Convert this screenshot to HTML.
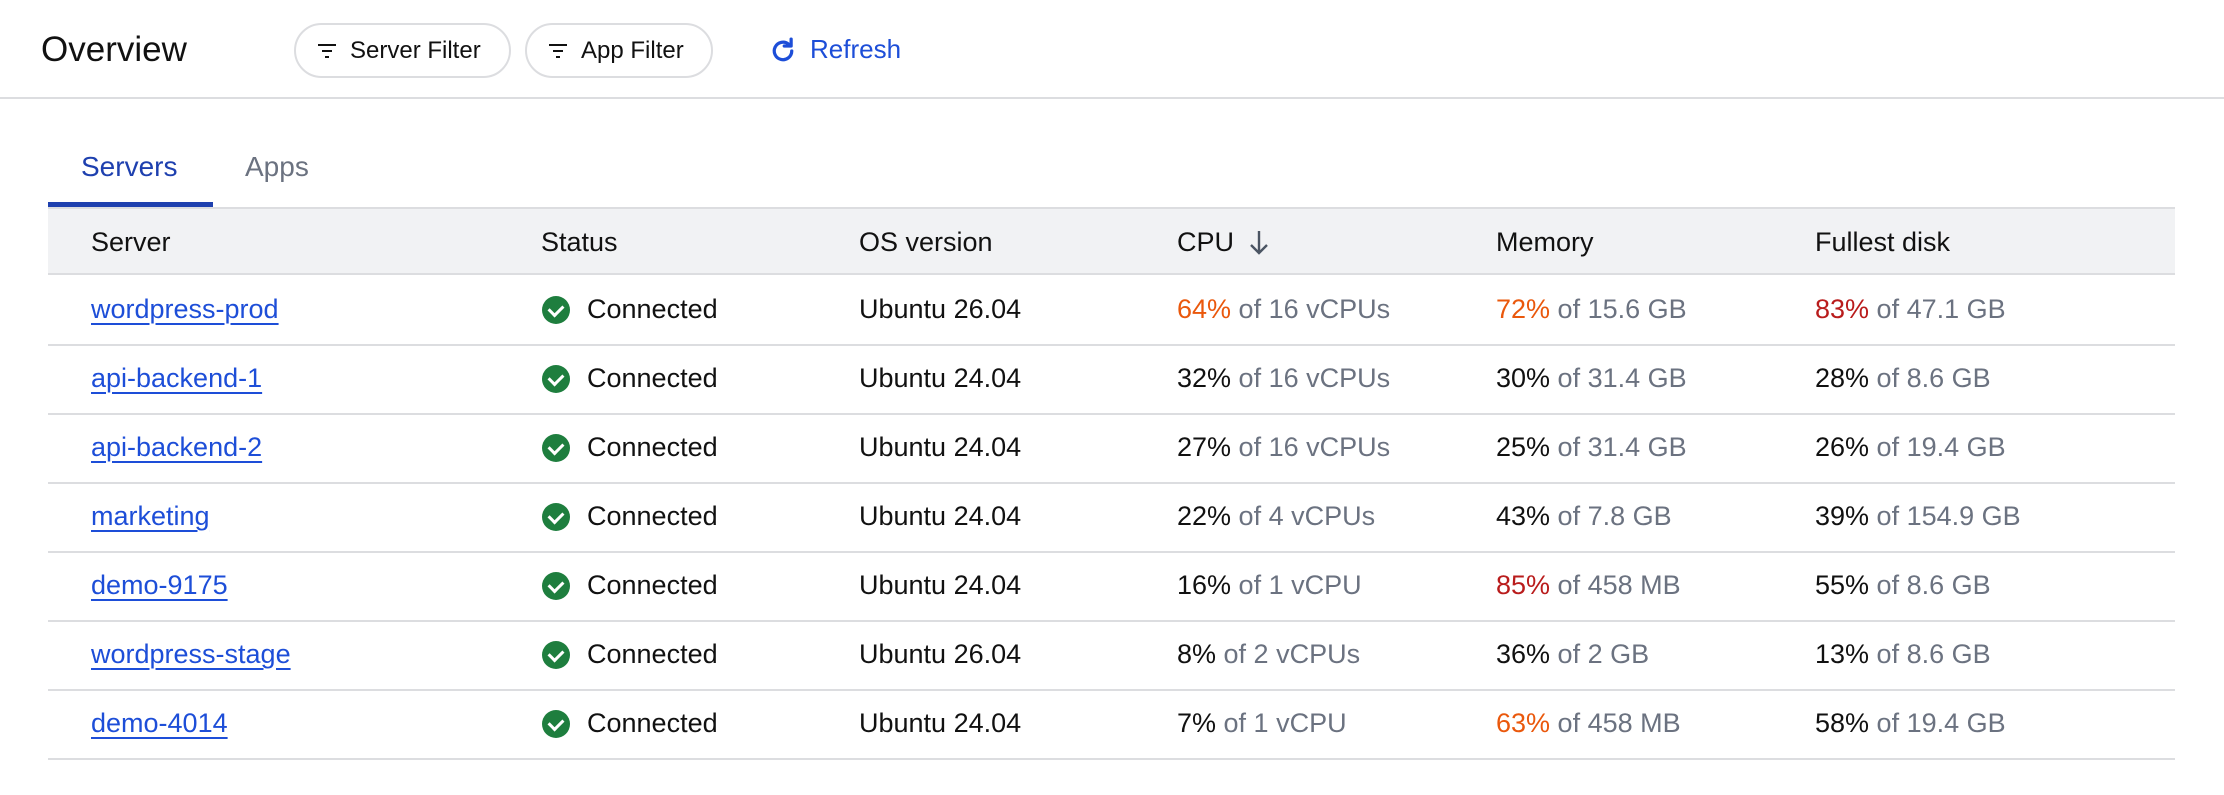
<!DOCTYPE html>
<html><head><meta charset="utf-8"><style>
*{margin:0;padding:0;box-sizing:border-box}
body{width:2224px;height:795px;background:#fff;font-family:"Liberation Sans",Arial,sans-serif;color:#111;position:relative;overflow:hidden}
.a{position:absolute;white-space:nowrap}
.title{left:41px;top:30px;font-size:35px;color:#111}
.btn{position:absolute;top:23px;height:55px;border:2px solid #dcdde0;border-radius:28px;font-size:24px;line-height:51px;padding-left:54px;color:#111}
.fic{position:absolute;left:22px;top:19px;width:18px;height:14px}
.fic i{position:absolute;height:2px;background:#111;left:0}
.hline{position:absolute;left:0;top:97px;width:2224px;height:2px;background:#dcdde0}
.tab{font-size:28px;top:151px}
.th{position:absolute;left:48px;top:207px;width:2127px;height:68px;background:#f1f2f4;border-top:2px solid #dcdde0;border-bottom:2px solid #dcdde0}
.hd{font-size:27px;top:227px;color:#111}
.c{font-size:27px;color:#111}
.g{color:#6b7280}
.o{color:#ea580c}
.r{color:#b91c1c}
.lk{color:#1d4ed8;text-decoration:underline;text-decoration-thickness:2px;text-underline-offset:5px}
.rl{position:absolute;left:48px;width:2127px;height:2px;background:#dcdde0}
.ck{position:absolute;width:28px;height:28px;border-radius:50%;background:#1e7e3e}
.ck:after{content:"";position:absolute;left:9px;top:6px;width:7px;height:11px;border:solid #fff;border-width:0 3px 3px 0;transform:rotate(45deg)}
</style></head><body>
<div class="a title">Overview</div>
<div class="btn" style="left:294px;width:217px"><div class="fic"><i style="top:0;width:18px"></i><i style="top:6px;left:4px;width:10px"></i><i style="top:12px;left:7px;width:4px"></i></div>Server Filter</div>
<div class="btn" style="left:525px;width:188px"><div class="fic"><i style="top:0;width:18px"></i><i style="top:6px;left:4px;width:10px"></i><i style="top:12px;left:7px;width:4px"></i></div>App Filter</div>
<svg class="a" style="left:768px;top:36px" width="30" height="30" viewBox="0 0 24 24"><path d="M19 12a7 7 0 1 1-2.5-5.4" fill="none" stroke="#1d4ed8" stroke-width="2.6" stroke-linecap="round"/><path d="M18.5 2.5v5.5h-5.5" fill="none" stroke="#1d4ed8" stroke-width="2.6" stroke-linecap="round" stroke-linejoin="round"/></svg>
<div class="a" style="left:810px;top:34px;font-size:26px;color:#1d4ed8">Refresh</div>
<div class="hline"></div>
<div class="a tab" style="left:81px;color:#1e40af">Servers</div>
<div class="a tab" style="left:245px;color:#6b7280">Apps</div>
<div class="th"></div>
<div class="a" style="left:48px;top:202px;width:165px;height:5px;background:#1e40af"></div>
<div class="a hd" style="left:91px">Server</div>
<div class="a hd" style="left:541px">Status</div>
<div class="a hd" style="left:859px">OS version</div>
<div class="a hd" style="left:1177px">CPU</div>
<svg class="a" style="left:1248px;top:228px" width="22" height="30" viewBox="0 0 22 30"><path d="M11 3v22M3 17l8 8 8-8" fill="none" stroke="#4b5563" stroke-width="2.4"/></svg>
<div class="a hd" style="left:1496px">Memory</div>
<div class="a hd" style="left:1815px">Fullest disk</div>

<div class="a c lk" style="left:91px;top:294px">wordpress-prod</div><div class="ck" style="left:542px;top:296px"></div><div class="a c" style="left:587px;top:294px">Connected</div><div class="a c" style="left:859px;top:294px">Ubuntu 26.04</div><div class="a c" style="left:1177px;top:294px"><span class="o">64%</span><span class="g"> of 16 vCPUs</span></div><div class="a c" style="left:1496px;top:294px"><span class="o">72%</span><span class="g"> of 15.6 GB</span></div><div class="a c" style="left:1815px;top:294px"><span class="r">83%</span><span class="g"> of 47.1 GB</span></div><div class="rl" style="top:344px"></div>

<div class="a c lk" style="left:91px;top:363px">api-backend-1</div><div class="ck" style="left:542px;top:365px"></div><div class="a c" style="left:587px;top:363px">Connected</div><div class="a c" style="left:859px;top:363px">Ubuntu 24.04</div><div class="a c" style="left:1177px;top:363px">32%<span class="g"> of 16 vCPUs</span></div><div class="a c" style="left:1496px;top:363px">30%<span class="g"> of 31.4 GB</span></div><div class="a c" style="left:1815px;top:363px">28%<span class="g"> of 8.6 GB</span></div><div class="rl" style="top:413px"></div>

<div class="a c lk" style="left:91px;top:432px">api-backend-2</div><div class="ck" style="left:542px;top:434px"></div><div class="a c" style="left:587px;top:432px">Connected</div><div class="a c" style="left:859px;top:432px">Ubuntu 24.04</div><div class="a c" style="left:1177px;top:432px">27%<span class="g"> of 16 vCPUs</span></div><div class="a c" style="left:1496px;top:432px">25%<span class="g"> of 31.4 GB</span></div><div class="a c" style="left:1815px;top:432px">26%<span class="g"> of 19.4 GB</span></div><div class="rl" style="top:482px"></div>

<div class="a c lk" style="left:91px;top:501px">marketing</div><div class="ck" style="left:542px;top:503px"></div><div class="a c" style="left:587px;top:501px">Connected</div><div class="a c" style="left:859px;top:501px">Ubuntu 24.04</div><div class="a c" style="left:1177px;top:501px">22%<span class="g"> of 4 vCPUs</span></div><div class="a c" style="left:1496px;top:501px">43%<span class="g"> of 7.8 GB</span></div><div class="a c" style="left:1815px;top:501px">39%<span class="g"> of 154.9 GB</span></div><div class="rl" style="top:551px"></div>

<div class="a c lk" style="left:91px;top:570px">demo-9175</div><div class="ck" style="left:542px;top:572px"></div><div class="a c" style="left:587px;top:570px">Connected</div><div class="a c" style="left:859px;top:570px">Ubuntu 24.04</div><div class="a c" style="left:1177px;top:570px">16%<span class="g"> of 1 vCPU</span></div><div class="a c" style="left:1496px;top:570px"><span class="r">85%</span><span class="g"> of 458 MB</span></div><div class="a c" style="left:1815px;top:570px">55%<span class="g"> of 8.6 GB</span></div><div class="rl" style="top:620px"></div>

<div class="a c lk" style="left:91px;top:639px">wordpress-stage</div><div class="ck" style="left:542px;top:641px"></div><div class="a c" style="left:587px;top:639px">Connected</div><div class="a c" style="left:859px;top:639px">Ubuntu 26.04</div><div class="a c" style="left:1177px;top:639px">8%<span class="g"> of 2 vCPUs</span></div><div class="a c" style="left:1496px;top:639px">36%<span class="g"> of 2 GB</span></div><div class="a c" style="left:1815px;top:639px">13%<span class="g"> of 8.6 GB</span></div><div class="rl" style="top:689px"></div>

<div class="a c lk" style="left:91px;top:708px">demo-4014</div><div class="ck" style="left:542px;top:710px"></div><div class="a c" style="left:587px;top:708px">Connected</div><div class="a c" style="left:859px;top:708px">Ubuntu 24.04</div><div class="a c" style="left:1177px;top:708px">7%<span class="g"> of 1 vCPU</span></div><div class="a c" style="left:1496px;top:708px"><span class="o">63%</span><span class="g"> of 458 MB</span></div><div class="a c" style="left:1815px;top:708px">58%<span class="g"> of 19.4 GB</span></div><div class="rl" style="top:758px"></div>
</body></html>
